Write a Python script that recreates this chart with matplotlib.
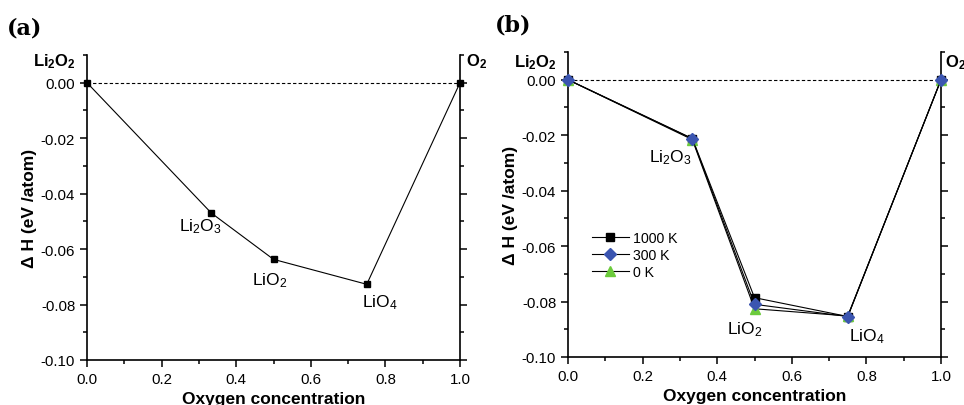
import matplotlib
matplotlib.use("Agg")
import matplotlib.pyplot as plt
from matplotlib.ticker import MultipleLocator, FuncFormatter

plt.rcParams['font.family'] = ['Liberation Sans', 'DejaVu Sans']
plt.rcParams['mathtext.default'] = 'regular'
plt.rcParams['axes.unicode_minus'] = False

# ---- data ----
x_conc = [0.0, 1/3, 0.5, 0.75, 1.0]
names = ['Li$_2$O$_3$', 'LiO$_2$', 'LiO$_4$']

dH_a = [0.0, -0.047, -0.0637, -0.0727, 0.0]

dH_1000K = [0.0, -0.0212, -0.0786, -0.0854, 0.0]
dH_300K = [0.0, -0.0213, -0.0810, -0.0854, 0.0]
dH_0K = [0.0, -0.0216, -0.0826, -0.0852, 0.0]
series_labels = ['1000 K', '300 K', '0 K']

fig = plt.figure(figsize=(9.64, 4.06), dpi=100)
axA = fig.add_axes([87/964, 45/406, 373/964, 305/406])
axB = fig.add_axes([568/964, 48/406, 373/964, 305/406])


def yfmt(v, pos):
    s = '%.2f' % v
    return '0.00' if s in ('-0.00', '0.00') else s


def style(ax):
    ax.set_xlim(0, 1)
    ax.set_ylim(-0.10, 0.01)
    ax.spines['top'].set_visible(False)
    for s in ['left', 'right', 'bottom']:
        ax.spines[s].set_linewidth(1.2)
    ax.xaxis.set_major_locator(MultipleLocator(0.2))
    ax.xaxis.set_minor_locator(MultipleLocator(0.1))
    ax.yaxis.set_major_locator(MultipleLocator(0.02))
    ax.yaxis.set_minor_locator(MultipleLocator(0.01))
    ax.xaxis.set_major_formatter(FuncFormatter(lambda v, p: '%.1f' % v))
    ax.yaxis.set_major_formatter(FuncFormatter(yfmt))
    ax.tick_params(which='both', direction='out', width=1.1, labelsize=10.8,
                   right=True, top=False)
    ax.tick_params(which='major', length=5)
    ax.tick_params(which='minor', length=3)
    ax.tick_params(axis='y', which='both', labelright=False)
    ax.set_xlabel('Oxygen concentration', fontsize=12.5, fontweight='bold', labelpad=3.5)
    ax.set_ylabel('Δ H (eV /atom)', fontsize=12.5, fontweight='bold', labelpad=3)
    ax.axhline(0, color='black', lw=0.8, ls=(0, (3, 2)), zorder=1)


style(axA)
style(axB)

# ---- panel (a) ----
axA.plot(x_conc, dH_a, color='black', lw=0.8, marker='s', ms=4.2,
         mfc='black', mec='black', clip_on=False, zorder=3)
offs_a = [(-11, -13), (-4, -20), (13, -17)]
for i, (nm, off) in enumerate(zip(names, offs_a)):
    axA.annotate(nm, (x_conc[i + 1], dH_a[i + 1]), xytext=off,
                 textcoords='offset pixels', ha='center', va='center', fontsize=12.5)

# ---- panel (b) ----
axB.plot(x_conc, dH_1000K, color='black', lw=0.8, marker='s', ms=5.5,
         mfc='black', mec='black', clip_on=False, zorder=3, label=series_labels[0])
axB.plot(x_conc, dH_300K, color='black', lw=0.8, marker='D', ms=6.5,
         mfc='#3b55b0', mec='#3b55b0', clip_on=False, zorder=5, label=series_labels[1])
axB.plot(x_conc, dH_0K, color='black', lw=0.8, marker='^', ms=6.5,
         mfc='#6ccb3c', mec='#6ccb3c', clip_on=False, zorder=4, label=series_labels[2])
offs_b = [(-22, -18), (-10, -24), (19, -19)]
for i, (nm, off) in enumerate(zip(names, offs_b)):
    axB.annotate(nm, (x_conc[i + 1], dH_300K[i + 1]), xytext=off,
                 textcoords='offset pixels', ha='center', va='center', fontsize=12.5)

axB.legend(loc='upper left', bbox_to_anchor=(0.064, 0.414), frameon=False,
           fontsize=10.2, borderpad=0, borderaxespad=0, handlelength=2.6,
           handletextpad=0.3, labelspacing=0.22)

# ---- end labels ----
for ax, ytop, xr in [(axA, 0.980, 1.017), (axB, 0.967, 1.012)]:
    ax.text(-0.0295, ytop, 'Li$_2$O$_2$', transform=ax.transAxes, ha='right',
            va='center', fontsize=12, fontweight='bold')
    ax.text(xr, ytop, 'O$_2$', transform=ax.transAxes, ha='left',
            va='center', fontsize=12, fontweight='bold')

fig.text(0.007, 0.931, '(a)', fontsize=16, fontweight='bold',
         family='DejaVu Serif', ha='left', va='center')
fig.text(0.5135, 0.938, '(b)', fontsize=16, fontweight='bold',
         family='DejaVu Serif', ha='left', va='center')

fig.savefig('out.png', dpi=100)
